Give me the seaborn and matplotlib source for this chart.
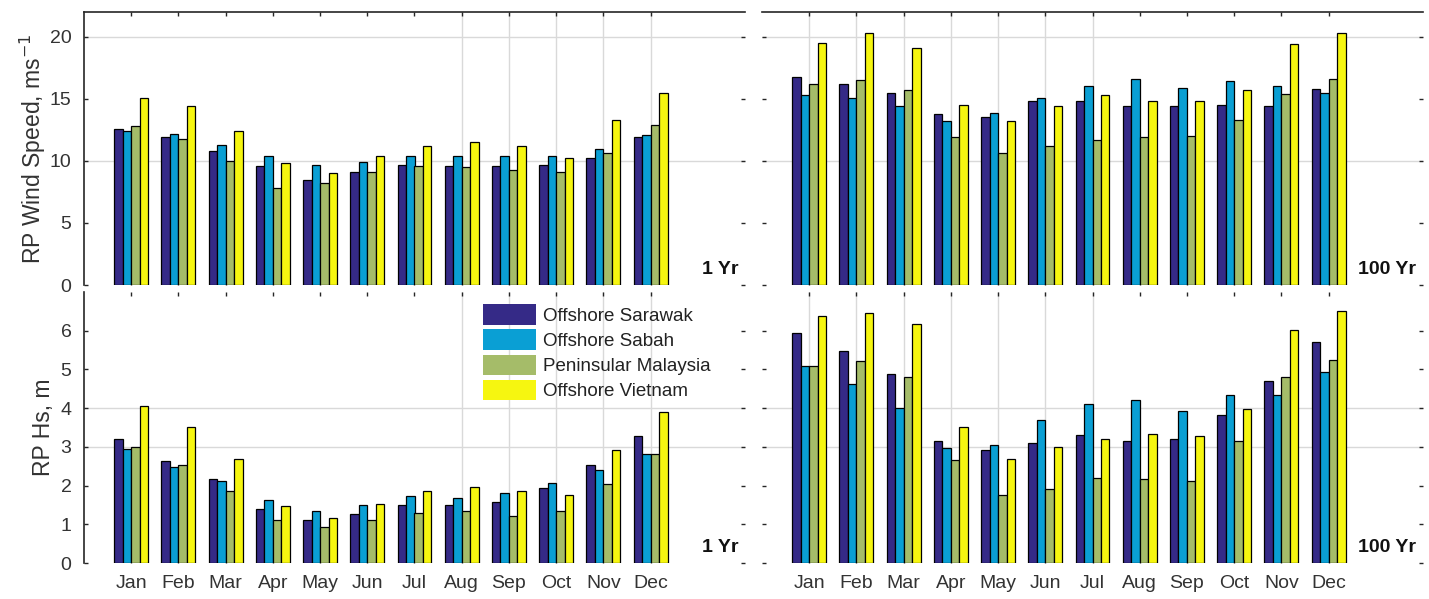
import numpy as np
import pandas as pd
import matplotlib
matplotlib.use("Agg")
import matplotlib.pyplot as plt
from matplotlib.patches import Patch
import seaborn as sns

# ---------------- data ----------------
months = ["Jan", "Feb", "Mar", "Apr", "May", "Jun", "Jul", "Aug", "Sep", "Oct", "Nov", "Dec"]
regions = ["Offshore Sarawak", "Offshore Sabah", "Peninsular Malaysia", "Offshore Vietnam"]

# 1-year return-period wind speed (m/s)
ws1_sarawak = [12.6, 11.9, 10.8, 9.6, 8.5, 9.1, 9.7, 9.6, 9.6, 9.7, 10.2, 11.9]
ws1_sabah = [12.4, 12.2, 11.3, 10.4, 9.7, 9.9, 10.4, 10.4, 10.4, 10.4, 11.0, 12.1]
ws1_peninsular = [12.8, 11.8, 10.0, 7.8, 8.2, 9.1, 9.6, 9.5, 9.3, 9.1, 10.6, 12.9]
ws1_vietnam = [15.1, 14.4, 12.4, 9.8, 9.0, 10.4, 11.2, 11.5, 11.2, 10.2, 13.3, 15.5]

# 100-year return-period wind speed (m/s)
ws100_sarawak = [16.8, 16.2, 15.5, 13.8, 13.5, 14.8, 14.8, 14.4, 14.4, 14.5, 14.4, 15.8]
ws100_sabah = [15.3, 15.1, 14.4, 13.2, 13.9, 15.1, 16.0, 16.6, 15.9, 16.4, 16.0, 15.5]
ws100_peninsular = [16.2, 16.5, 15.7, 11.9, 10.6, 11.2, 11.7, 11.9, 12.0, 13.3, 15.4, 16.6]
ws100_vietnam = [19.5, 20.3, 19.1, 14.5, 13.2, 14.4, 15.3, 14.8, 14.8, 15.7, 19.4, 20.3]

# 1-year return-period Hs (m)
hs1_sarawak = [3.20, 2.64, 2.16, 1.40, 1.10, 1.27, 1.51, 1.51, 1.58, 1.93, 2.52, 3.29]
hs1_sabah = [2.94, 2.49, 2.11, 1.63, 1.34, 1.49, 1.73, 1.69, 1.82, 2.06, 2.40, 2.82]
hs1_peninsular = [2.99, 2.52, 1.86, 1.10, 0.93, 1.12, 1.29, 1.34, 1.21, 1.34, 2.03, 2.82]
hs1_vietnam = [4.05, 3.51, 2.69, 1.47, 1.17, 1.52, 1.86, 1.97, 1.86, 1.75, 2.92, 3.91]

# 100-year return-period Hs (m)
hs100_sarawak = [5.94, 5.47, 4.87, 3.16, 2.92, 3.11, 3.30, 3.16, 3.21, 3.82, 4.70, 5.70]
hs100_sabah = [5.09, 4.63, 4.00, 2.97, 3.04, 3.70, 4.11, 4.22, 3.93, 4.35, 4.35, 4.93]
hs100_peninsular = [5.09, 5.23, 4.80, 2.66, 1.75, 1.91, 2.20, 2.16, 2.11, 3.15, 4.81, 5.24]
hs100_vietnam = [6.39, 6.45, 6.17, 3.52, 2.68, 3.00, 3.20, 3.33, 3.27, 3.98, 6.03, 6.52]

colors = ["#352a87", "#0a9fd4", "#a5bc69", "#f6f610"]

ws_ticks = [0, 5, 10, 15, 20]
hs_ticks = [0, 1, 2, 3, 4, 5, 6]
ws_grid = [10, 20]
hs_grid = [3, 4]
left_vgrid_months = ["Aug", "Sep", "Oct", "Nov", "Dec"]
right_vgrid_months = ["Jan", "Feb", "Mar", "Apr", "May", "Jun", "Jul"]


def long_df(series):
    rows = []
    for reg, vals in zip(regions, series):
        for m, v in zip(months, vals):
            rows.append({"month": m, "region": reg, "value": v})
    return pd.DataFrame(rows)


panels = [
    dict(series=[ws1_sarawak, ws1_sabah, ws1_peninsular, ws1_vietnam], label="1 Yr",
         ylim=(0, 22), ticks=ws_ticks, grid=ws_grid, vgrid=left_vgrid_months, left=True, top=True),
    dict(series=[ws100_sarawak, ws100_sabah, ws100_peninsular, ws100_vietnam], label="100 Yr",
         ylim=(0, 22), ticks=ws_ticks, grid=ws_grid, vgrid=right_vgrid_months, left=False, top=True),
    dict(series=[hs1_sarawak, hs1_sabah, hs1_peninsular, hs1_vietnam], label="1 Yr",
         ylim=(0, 7), ticks=hs_ticks, grid=hs_grid, vgrid=left_vgrid_months, left=True, top=False),
    dict(series=[hs100_sarawak, hs100_sabah, hs100_peninsular, hs100_vietnam], label="100 Yr",
         ylim=(0, 7), ticks=hs_ticks, grid=hs_grid, vgrid=right_vgrid_months, left=False, top=False),
]

# ---------------- figure ----------------
sns.set_theme(style="white")
plt.rcParams["font.family"] = ["Liberation Sans", "DejaVu Sans"]

W, H = 1429, 599
fig = plt.figure(figsize=(W / 100, H / 100), dpi=100)

ax_w = 661 / W
pos = [
    (84 / W, 1 - 285 / H, ax_w, 273 / H),
    (762 / W, 1 - 285 / H, ax_w, 273 / H),
    (84 / W, 1 - 563 / H, ax_w, 271 / H),
    (762 / W, 1 - 563 / H, ax_w, 271 / H),
]

for p, rect in zip(panels, pos):
    ax = fig.add_axes(rect)
    df = long_df(p["series"])
    sns.barplot(data=df, x="month", y="value", hue="region", order=months,
                hue_order=regions, palette=colors, width=0.72, edgecolor="black",
                linewidth=0.9, saturation=1, legend=False, ax=ax, zorder=2)
    ax.set_xlim(-1, 13)
    ax.set_ylim(*p["ylim"])
    ax.set_yticks(p["ticks"])
    ax.set_xticks(range(len(months)))
    for g in p["grid"]:
        ax.axhline(g, color="#d9d9d9", lw=1.0, zorder=0)
    for m in p["vgrid"]:
        ax.axvline(months.index(m), color="#d9d9d9", lw=1.0, zorder=0)
    ax.set_xlabel("")
    ax.set_ylabel("")
    ax.tick_params(axis="both", direction="in", length=3, width=1, color="#262626",
                   labelsize=14, labelcolor="#333333", top=True, bottom=True,
                   left=True, right=True)
    ax.tick_params(axis="y", pad=9)
    ax.tick_params(axis="x", pad=9)
    if not p["left"]:
        ax.tick_params(axis="y", labelleft=False)
    if p["top"]:
        ax.tick_params(axis="x", labelbottom=False)
    for side in ["left", "right", "top", "bottom"]:
        ax.spines[side].set_visible(False)
    if p["top"]:
        ax.spines["top"].set_visible(True)
        ax.spines["top"].set_color("#262626")
        ax.spines["top"].set_linewidth(1.2)
    if p["left"]:
        ax.spines["left"].set_visible(True)
        ax.spines["left"].set_color("#262626")
        ax.spines["left"].set_linewidth(1.2)
    ax.set_facecolor("none")
    ax.text(0.99, 0.025, p["label"], transform=ax.transAxes, ha="right", va="bottom",
            fontsize=14, fontweight="bold", color="#111111")
    p["ax"] = ax

panels[0]["ax"].set_ylabel("RP Wind Speed, ms$^{-1}$", fontsize=16.5, color="#333333", labelpad=1)
panels[2]["ax"].set_ylabel("RP Hs, m", fontsize=16.5, color="#333333", labelpad=4)

handles = [Patch(facecolor=c, edgecolor="none") for c in colors]
fig.legend(handles, regions, loc="upper left", bbox_to_anchor=(470 / W, 1 - 291 / H),
           frameon=False, fontsize=13.5, handlelength=2.8, handleheight=1.3,
           labelspacing=0.25, handletextpad=0.4, borderpad=0.2,
           labelcolor="#222222")

fig.savefig("out.png", dpi=100)
